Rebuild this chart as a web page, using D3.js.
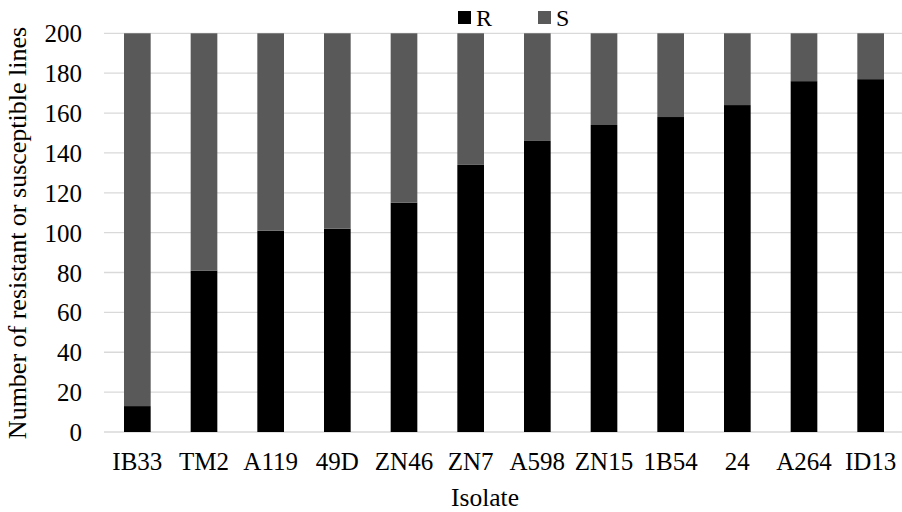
<!DOCTYPE html>
<html><head><meta charset="utf-8">
<script src="https://cdn.jsdelivr.net/npm/d3@7"></script>
<style>body{margin:0;background:#fff}svg{display:block}</style>
</head><body><svg id="c" width="902" height="512"></svg>
<script>
const categories = ["IB33","TM2","A119","49D","ZN46","ZN7","A598","ZN15","1B54","24","A264","ID13"];
const resistant = [13,81,101,102,115,134,146,154,158,164,176,177];
const susceptible = [187,119,99,98,85,66,54,46,42,36,24,23];
const yTicks = [0,20,40,60,80,100,120,140,160,180,200];
const seriesNames = ["R","S"];
const seriesColors = ["#000000","#595959"];
const FONT = '"Liberation Serif"';

const svg = d3.select("#c");
const x = d3.scaleBand().domain(categories).range([104, 904]).paddingInner(0.6).paddingOuter(0.3);
const y = d3.scaleLinear().domain([0,200]).range([432, 33.3]);

// gridlines
svg.append("g").selectAll("line").data(yTicks).join("line")
  .attr("x1",104).attr("x2",902).attr("y1",d=>y(d)).attr("y2",d=>y(d))
  .attr("stroke","#d9d9d9").attr("stroke-width",1.3);

const rows = categories.map((c,i)=>({cat:c,R:resistant[i],S:susceptible[i]}));
const stack = d3.stack().keys(seriesNames)(rows);
svg.append("g").selectAll("g").data(stack).join("g")
  .attr("fill",(d,i)=>seriesColors[i])
  .selectAll("rect").data(d=>d).join("rect")
  .attr("x",d=>x(d.data.cat)).attr("width",x.bandwidth())
  .attr("y",d=>y(d[1])).attr("height",d=>y(d[0])-y(d[1]));

// y axis
const yAxis = d3.axisLeft(y).tickValues(yTicks).tickSize(0).tickPadding(0);
const ya = svg.append("g").attr("transform","translate(82,0)").call(yAxis);
ya.select(".domain").remove();
ya.selectAll("text").style("font-size","25px").style("font-family",FONT).style("fill","#000").attr("dy","0.34em");

// x axis
const xAxis = d3.axisBottom(x).tickSize(0).tickPadding(0);
const xa = svg.append("g").attr("transform","translate(0,452)").call(xAxis);
xa.select(".domain").remove();
xa.selectAll("text").style("font-size","25px").style("font-family",FONT).style("fill","#000").attr("dy","0.72em");

// titles
svg.append("text").attr("x",485).attr("y",506).attr("text-anchor","middle")
  .style("font-size","25.5px").style("font-family",FONT).text("Isolate");
svg.append("text").attr("transform","translate(26,233) rotate(-90)").attr("text-anchor","middle")
  .style("font-size","26px").style("font-family",FONT).text("Number of resistant or susceptible lines");

// legend
const leg = svg.append("g").selectAll("g").data(seriesNames).join("g")
  .attr("transform",(d,i)=>`translate(${458+i*80},11)`);
leg.append("rect").attr("width",13).attr("height",13).attr("fill",(d,i)=>seriesColors[i]);
leg.append("text").attr("x",18).attr("y",15).style("font-size","24px").style("font-family",FONT).text(d=>d);
</script></body></html>
